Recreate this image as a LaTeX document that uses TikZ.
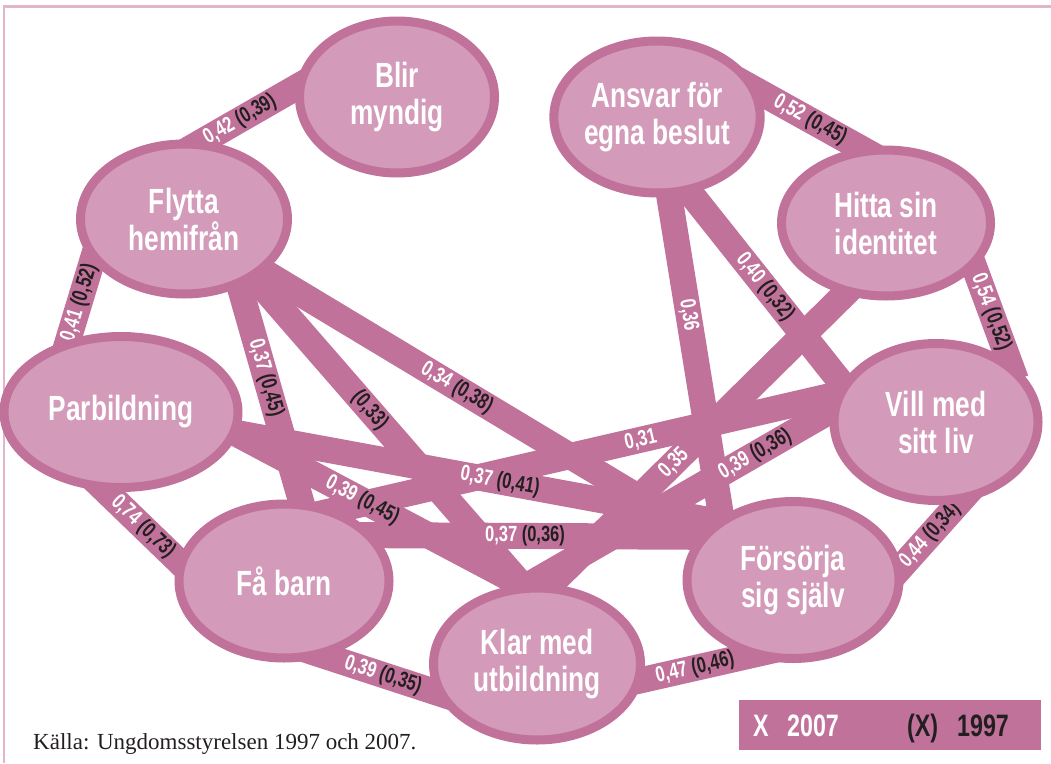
\documentclass[tikz,border=0pt]{standalone}
\usepackage{fontspec}
\setmainfont{Liberation Serif}
\newfontfamily\cond[FakeStretch=0.75]{Liberation Sans}
\usetikzlibrary{shapes.geometric,calc,backgrounds}
\definecolor{barcol}{HTML}{C1729B}
\definecolor{ellfill}{HTML}{D49AB9}
\definecolor{framecol}{HTML}{E2B5CB}
\definecolor{darktxt}{HTML}{231F20}
\newcommand\lw[1]{\textcolor{white}{#1}}
\newcommand\lb[1]{\textcolor{darktxt}{#1}}
\newcommand\edgedata{%
fh/-14/-59/bm/-67/-29/0.4375/{\lw{0,42} \lb{(0,39)}},%
ab/63/-47/hi/-6/-64/0.5625/{\lw{0,52} \lb{(0,45)}},%
pb/-71/-12/fh/-67/-40/0.441/{\lw{0,41} \lb{(0,52)}},%
hi/82/27/vm/80/-42/0.477/{\lw{0,54} \lb{(0,52)}},%
pb/-36/59/fb/-83/2/0.5/{\lw{0,74} \lb{(0,73)}},%
fs/87/11/vm/37/65/0.536/{\lw{0,44} \lb{(0,34)}},%
fb/4/63/km/-59/42/0.5/{\lw{0,39} \lb{(0,35)}},%
km/61/26/fs/-1/66/0.5/{\lw{0,47} \lb{(0,46)}},%
fh/46/34/fb/23/-59/0.464/{\lw{0,37} \lb{(0,45)}},%
fh/61/48/km/-10/-73/0.442/{\lb{(0,33)}},%
fh/67/45/fs/-70/-32/0.436/{\lw{0,34} \lb{(0,38)}},%
pb/94/17/fs/-57/-55/0.547/{\lw{0,37} \lb{(0,41)}},%
pb/82/4/km/2/-70/0.474/{\lw{0,39} \lb{(0,45)}},%
fb/56/-46/fs/-53/-43/0.4625/{\lw{0,37} \lb{(0,36)}},%
fb/26/-65/vm/-71/-34/0.596/{\lw{0,31}},%
km/2/-68/hi/-35/65/0.432/{\lw{0,35}},%
km/-12/-77/vm/-66/-34/0.667/{\lw{0,39} \lb{(0,36)}},%
ab/8/53/fs/-68/-40/0.392/{\lw{0,36}},%
ab/23/63/vm/-66/-3/0.447/{\lw{0,40} \lb{(0,32)}}%
}
\tikzset{
  ell/.style={ellipse, draw=barcol, line width=9, fill=ellfill, text=white,
    font=\cond\bfseries\fontsize{35}{37}\selectfont, align=center, inner sep=0},
  bar/.style={draw=barcol, line width=26},
  lbl/.style={font=\cond\bfseries\fontsize{22}{22}\selectfont, inner sep=0, sloped},
  legtxt/.style={font=\cond\bfseries\fontsize{31}{31}\selectfont, anchor=base west, inner sep=0}
}
\begin{document}
\begin{tikzpicture}[x=1pt,y=-1pt]
\useasboundingbox (0,0) rectangle (1051,763);
\draw[framecol, line width=2.5] (4,763) -- (4,6.5) -- (1051,6.5);
\node[ell, minimum width=195, minimum height=152] (bm) at (397,97) {Blir\\myndig};
\node[ell, minimum width=199, minimum height=152] (ab) at (657,117) {Ansvar för\\egna beslut};
\node[ell, minimum width=209, minimum height=146] (hi) at (886,223) {Hitta sin\\identitet};
\node[ell, minimum width=207, minimum height=150] (fh) at (184,219) {Flytta\\hemifrån};
\node[ell, minimum width=234, minimum height=151] (pb) at (121,412) {Parbildning};
\node[ell, minimum width=204, minimum height=157] (vm) at (936,422) {Vill med\\sitt liv};
\node[ell, minimum width=210, minimum height=154] (fb) at (284,581) {Få barn};
\node[ell, minimum width=207, minimum height=152] (km) at (537,664) {Klar med\\utbildning};
\node[ell, minimum width=212, minimum height=157] (fs) at (793,580) {Försörja\\sig själv};
\begin{pgfonlayer}{background}
\foreach \a/\ax/\ay/\b/\bx/\by/\p/\t in \edgedata {
  \draw[bar] ($(\a)+(\ax,\ay)$) -- ($(\b)+(\bx,\by)$);
}
\foreach \a/\ax/\ay/\b/\bx/\by/\p/\t in \edgedata {
  \path ($(\a)+(\ax,\ay)$) -- node[lbl, pos=\p] {\t} ($(\b)+(\bx,\by)$);
}
\end{pgfonlayer}
\node[fill=barcol, minimum width=302, minimum height=50, anchor=north west, inner sep=0] (leg) at (739,700) {};
\node[legtxt, text=white] (lx) at (753,736) {X};
\node[legtxt, text=white] (ly) at (787,736) {2007};
\node[legtxt, text=darktxt] (lpx) at (907,736) {(X)};
\node[legtxt, text=darktxt] (lpy) at (957,736) {1997};
\node[anchor=base west, inner sep=0, font=\fontsize{23}{23}\selectfont, text=darktxt] (src) at (33,749) {Källa: Ungdomsstyrelsen 1997 och 2007.};
\end{tikzpicture}
\end{document}
